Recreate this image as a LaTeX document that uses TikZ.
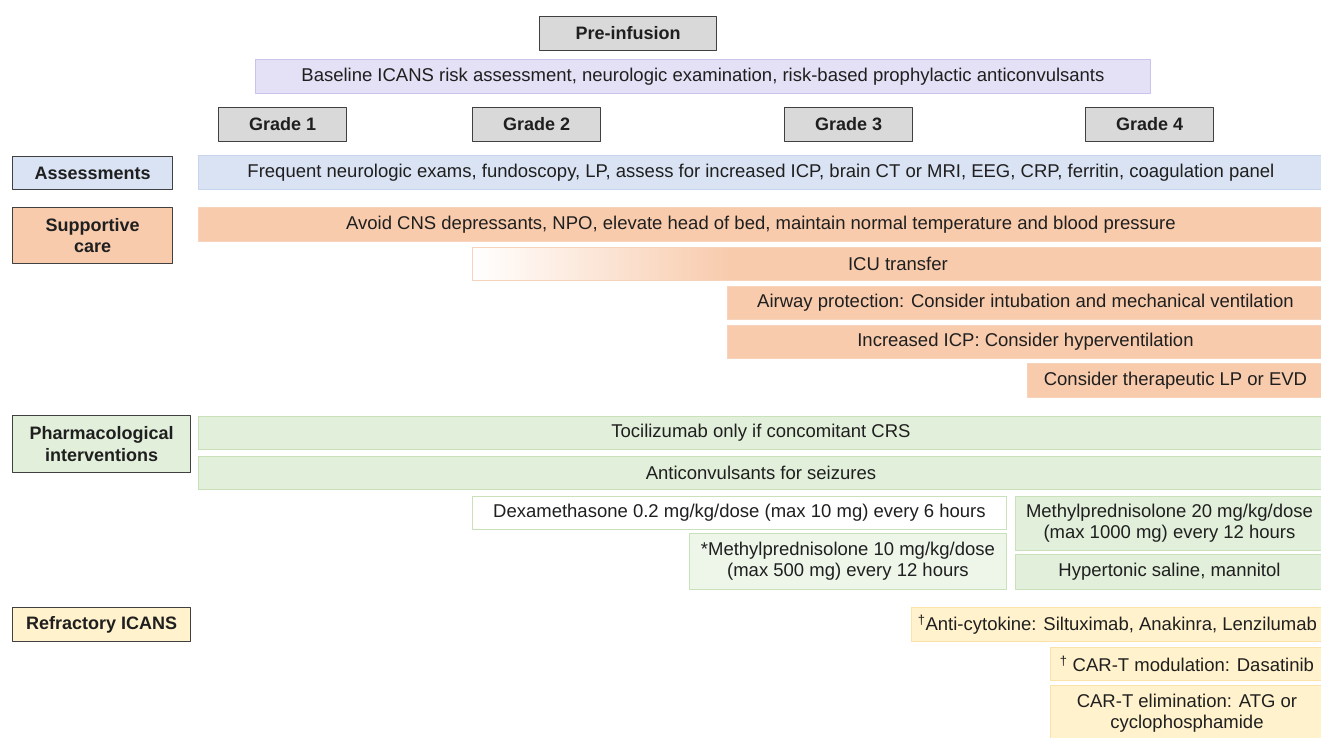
\documentclass[tikz,border=0pt]{standalone}
\usepackage{fontspec}
\setmainfont{Liberation Sans}
\definecolor{grayfill}{HTML}{D9D9D9}
\definecolor{darkline}{HTML}{404040}
\definecolor{lavfill}{HTML}{E4E0F5}
\definecolor{lavline}{HTML}{CBC3EC}
\definecolor{bluefill}{HTML}{DAE3F3}
\definecolor{blueline}{HTML}{C6D4EE}
\definecolor{orfill}{HTML}{F8CBAD}
\definecolor{orline}{HTML}{F8D3BB}
\definecolor{grfill}{HTML}{E2EFDA}
\definecolor{grlight}{HTML}{EEF6EA}
\definecolor{grline}{HTML}{C8E1B9}
\definecolor{yefill}{HTML}{FFF2CC}
\definecolor{yeline}{HTML}{FAE2A8}
\tikzset{
  cell/.style={rectangle, anchor=north west, inner sep=0pt, align=center,
    font=\fontsize{18.5}{21.5}\selectfont, text=black!88},
  sz/.style 2 args={minimum width=#1pt, minimum height=#2pt},
  gradebox/.style={cell, fill=grayfill, draw=darkline, line width=1.1pt, font=\bfseries\fontsize{18}{21.5}\selectfont},
  headbox/.style={cell, fill=#1, draw=darkline, line width=1.1pt, font=\bfseries\fontsize{18}{21.5}\selectfont},
  lavbar/.style={cell, fill=lavfill, draw=lavline, line width=0.9pt},
  bluebar/.style={cell, fill=bluefill, draw=blueline, line width=0.9pt},
  orbar/.style={cell, fill=orfill, draw=orline, line width=0.9pt},
  grbar/.style={cell, fill=#1, draw=grline, line width=0.9pt},
  grbar/.default=grfill,
  yebar/.style={cell, fill=yefill, draw=yeline, line width=0.9pt},
}
\begin{document}
\begin{tikzpicture}[x=1pt, y=-1pt, line join=round]
\useasboundingbox[fill=white] (0,0) rectangle (1321,737);
%== grades
\node[gradebox, sz={177}{34}] (pre) at (539,16) {Pre-infusion};
\node[lavbar, sz={895}{34}] (base) at (255,59) {Baseline ICANS risk assessment, neurologic examination, risk-based prophylactic anticonvulsants};
\node[gradebox, sz={128}{34}] (g1) at (218,107) {Grade 1};
\node[gradebox, sz={128}{34}] (g2) at (472,107) {Grade 2};
\node[gradebox, sz={128}{34}] (g3) at (784,107) {Grade 3};
\node[gradebox, sz={128}{34}] (g4) at (1085,107) {Grade 4};
%== assessments
\node[headbox=bluefill, sz={160}{33}] (asmt) at (12,156) {Assessments};
\node[bluebar, sz={1125}{34}] (asmtbar) at (198,155) {Frequent neurologic exams, fundoscopy, LP, assess for increased ICP, brain CT or MRI, EEG, CRP, ferritin, coagulation panel};
%== supportive care
\node[headbox=orfill, sz={160}{56}] (supp) at (12,207) {Supportive\\care};
\node[orbar, sz={1125}{34}] (avoid) at (198,207) {Avoid CNS depressants, NPO, elevate head of bed, maintain normal temperature and blood pressure};
\shade[left color=white, right color=orfill] (472,247) rectangle (730,280);
\fill[orfill] (729,247) rectangle (1323,280);
\node[cell, draw=orline, line width=0.9pt, sz={851}{33}] (icu) at (472,247) {ICU transfer};
\node[orbar, sz={596}{33}] (airway) at (727,286) {Airway protection: Consider intubation and mechanical ventilation};
\node[orbar, sz={596}{33}] (icp) at (727,325) {Increased ICP: Consider hyperventilation};
\node[orbar, sz={296}{34}] (evd) at (1027,363) {Consider therapeutic LP or EVD};
%== pharmacological
\node[headbox=grfill, sz={178}{57}] (pharm) at (12,415) {Pharmacological\\interventions};
\node[grbar, sz={1125}{33}] (toci) at (198,416) {Tocilizumab only if concomitant CRS};
\node[grbar, sz={1125}{33}] (anticonv) at (198,456) {Anticonvulsants for seizures};
\node[grbar=white, sz={534}{33}] (dexa) at (472,496) {Dexamethasone 0.2 mg/kg/dose (max 10 mg) every 6 hours};
\node[grbar=grlight, sz={317}{56}] (mp10) at (689,533) {*Methylprednisolone 10 mg/kg/dose\\(max 500 mg) every 12 hours};
\node[grbar, sz={308}{54}] (mp20) at (1015,496) {Methylprednisolone 20 mg/kg/dose\\(max 1000 mg) every 12 hours};
\node[grbar, sz={308}{35}] (saline) at (1015,554) {Hypertonic saline, mannitol};
%== refractory
\node[headbox=yefill, sz={178}{34}] (refr) at (12,607) {Refractory ICANS};
\node[yebar, sz={412}{34}] (cyto) at (911,607) {\textsuperscript{†}Anti-cytokine: Siltuximab, Anakinra, Lenzilumab};
\node[yebar, sz={273}{33}] (modul) at (1050,647) {\textsuperscript{†} CAR-T modulation: Dasatinib};
\node[yebar, sz={273}{56}] (elim) at (1050,685) {CAR-T elimination: ATG or\\cyclophosphamide};
\end{tikzpicture}
\end{document}
